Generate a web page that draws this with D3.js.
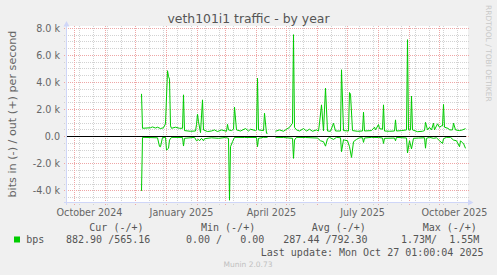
<!DOCTYPE html>
<html>
<head>
<meta charset="utf-8">
<script src="https://cdn.jsdelivr.net/npm/d3@7"></script>
<style>
  body { margin: 0; background: #f0f0f0; }
  svg { display: block; }
  text { font-family: "DejaVu Sans", sans-serif; }
  .mono { font-family: "DejaVu Sans Mono", monospace; white-space: pre; }
</style>
</head>
<body>
<svg width="497" height="275"></svg>
<script>
// daily averages, bits per second (null = no data)
const outDates = ["2024-12-07","2024-12-08","2024-12-16","2024-12-18","2024-12-21","2024-12-23","2024-12-26","2024-12-29","2024-12-31",
  "2025-01-02","2025-01-03","2025-01-04","2025-01-05","2025-01-06","2025-01-10","2025-01-14","2025-01-17","2025-01-18","2025-01-19",
  "2025-01-25","2025-01-30","2025-01-31","2025-02-01","2025-02-02","2025-02-04","2025-02-06","2025-02-07","2025-02-11","2025-02-15",
  "2025-02-18","2025-02-21","2025-02-25","2025-03-02","2025-03-03","2025-03-04","2025-03-07","2025-03-09","2025-03-10","2025-03-12",
  "2025-03-16","2025-03-21","2025-03-24","2025-03-26","2025-03-31","2025-04-01","2025-04-02","2025-04-03","2025-04-08","2025-04-09",
  "2025-04-11","2025-04-12","2025-04-16","2025-04-20","2025-04-24","2025-04-28","2025-05-01","2025-05-04","2025-05-07","2025-05-08",
  "2025-05-09","2025-05-11","2025-05-14","2025-05-18","2025-05-21","2025-05-24","2025-05-27","2025-05-31","2025-06-02","2025-06-03",
  "2025-06-05","2025-06-07","2025-06-09","2025-06-11","2025-06-14","2025-06-17","2025-06-19","2025-06-24","2025-06-25","2025-06-27",
  "2025-07-02","2025-07-03","2025-07-04","2025-07-06","2025-07-11","2025-07-16","2025-07-17","2025-07-18","2025-07-25","2025-07-28",
  "2025-07-29","2025-08-01","2025-08-02","2025-08-05","2025-08-06","2025-08-07","2025-08-12","2025-08-17","2025-08-18","2025-08-19",
  "2025-08-24","2025-08-29","2025-08-30","2025-08-31","2025-09-02","2025-09-03","2025-09-04","2025-09-09","2025-09-14","2025-09-16",
  "2025-09-17","2025-09-19","2025-09-21","2025-09-23","2025-09-25","2025-09-26","2025-09-29","2025-10-01","2025-10-03","2025-10-04",
  "2025-10-05","2025-10-06","2025-10-10","2025-10-11","2025-10-14","2025-10-15","2025-10-17","2025-10-21","2025-10-24","2025-10-27"];
const outValues = [3160,620,660,720,640,700,600,660,950,
  4870,4450,4250,800,620,700,620,620,3090,450,
  400,420,900,1660,1100,300,2720,500,380,420,
  500,380,500,400,910,500,450,550,2180,500,
  420,600,420,550,450,500,4320,500,450,1730,
  250,250,null,400,500,400,550,690,990,7530,
  690,500,420,600,420,550,400,500,420,990,
  2350,420,3580,420,400,990,420,420,4940,450,
  420,3260,3140,450,400,420,1810,420,450,700,
  500,900,600,550,2350,420,400,420,1240,420,
  450,500,7160,500,500,3000,500,370,400,450,
  1060,500,690,500,1000,500,950,690,800,800,
  2380,700,600,500,500,1000,500,450,500,600];

const inDates = ["2024-12-07","2024-12-08","2024-12-23","2024-12-25","2024-12-26","2024-12-28","2024-12-31","2025-01-01","2025-01-03",
  "2025-01-04","2025-01-06","2025-01-17","2025-01-18","2025-01-19","2025-01-29","2025-01-31","2025-02-02","2025-02-03","2025-02-05",
  "2025-02-07","2025-02-08","2025-02-15","2025-02-22","2025-03-01","2025-03-04","2025-03-05","2025-03-06","2025-03-08","2025-03-10",
  "2025-03-20","2025-04-01","2025-04-02","2025-04-03","2025-04-08","2025-04-12","2025-04-16","2025-04-20","2025-04-28","2025-05-07",
  "2025-05-08","2025-05-09","2025-05-11","2025-05-20","2025-06-01","2025-06-04","2025-06-07","2025-06-09","2025-06-11","2025-06-13",
  "2025-06-17","2025-06-20","2025-06-24","2025-06-25","2025-06-27","2025-06-28","2025-07-01","2025-07-03","2025-07-05","2025-07-07",
  "2025-07-10","2025-07-13","2025-07-16","2025-07-17","2025-07-18","2025-07-25","2025-08-01","2025-08-05","2025-08-06","2025-08-07",
  "2025-08-17","2025-08-18","2025-08-19","2025-08-29","2025-08-30","2025-09-01","2025-09-03","2025-09-05","2025-09-10","2025-09-16",
  "2025-09-17","2025-09-18","2025-09-21","2025-09-25","2025-09-28","2025-10-01","2025-10-04","2025-10-05","2025-10-08","2025-10-12",
  "2025-10-15","2025-10-18","2025-10-21","2025-10-22","2025-10-24","2025-10-25","2025-10-27"];
const inValues = [4000,50,80,720,740,60,50,990,860,
  250,50,60,690,120,50,300,200,300,120,
  300,150,80,120,60,120,4690,740,370,50,
  60,60,740,120,50,50,null,50,60,120,
  1600,250,50,60,100,300,370,700,150,50,
  200,50,80,1110,220,250,300,740,1530,370,
  200,80,80,420,100,50,60,100,500,120,
  100,300,50,100,1200,300,900,120,100,80,
  850,120,50,120,80,300,500,150,50,50,
  250,300,740,300,450,500,860];

const yTicks = [-4000, -2000, 0, 2000, 4000, 6000, 8000];
const yTickLabels = ["-4.0 k", "-2.0 k", "0.0", "2.0 k", "4.0 k", "6.0 k", "8.0 k"];
const labelMonths = ["2024-10-01", "2025-01-01", "2025-04-01", "2025-07-01", "2025-10-01"];
const labelTexts = ["October 2024", "January 2025", "April 2025", "July 2025", "October 2025"];

const legendHeads = ["Cur (-/+)", "Min (-/+)", "Avg (-/+)", "Max (-/+)"];
const legendValues = ["882.90 /565.16", "0.00 /   0.00", "287.44 /792.30", "1.73M/  1.55M"];

const parse = d3.timeParse("%Y-%m-%d");
const svg = d3.select("svg");

var x = d3.scaleTime()
    .domain([new Date(2024, 8, 23, 12), new Date(2025, 9, 28, 12)])
    .range([67, 467]);
var y = d3.scaleLinear().domain([-4880, 8000]).range([202.8, 28.3]);
const crisp = v => Math.floor(v) + 0.5;

svg.append("rect").attr("width", 497).attr("height", 275).attr("fill", "#f0f0f0");
svg.append("rect").attr("x", 67).attr("y", 26).attr("width", 401).attr("height", 176.5).attr("fill", "#ffffff");

// grid: minor every second week, major each month / every 2k
const minorX = d3.range(0, 30).map(i => d3.timeDay.offset(new Date(2024, 8, 22), 14 * i))
    .filter(d => x(d) > 67 && x(d) < 467);
const majorX = d3.timeMonth.range(new Date(2024, 9, 1), new Date(2025, 9, 2));
const minorY = d3.range(-4500, 8001, 500).filter(v => v % 2000 !== 0);

const grid = svg.append("g").attr("stroke-width", 1).attr("stroke-dasharray", "1,1").attr("fill", "none");
grid.selectAll(".mx").data(minorX).enter().append("line")
    .attr("x1", d => crisp(x(d))).attr("x2", d => crisp(x(d)))
    .attr("y1", 26).attr("y2", 205).attr("stroke", "#d2d2d2");
grid.selectAll(".my").data(minorY).enter().append("line")
    .attr("y1", d => crisp(y(d))).attr("y2", d => crisp(y(d)))
    .attr("x1", 64).attr("x2", 469).attr("stroke", "#d2d2d2");
grid.selectAll(".Mx").data(majorX).enter().append("line")
    .attr("x1", d => crisp(x(d))).attr("x2", d => crisp(x(d)))
    .attr("y1", 26).attr("y2", 206).attr("stroke", "#eea6a6");
grid.selectAll(".My").data(yTicks).enter().append("line")
    .attr("y1", d => crisp(y(d))).attr("y2", d => crisp(y(d)))
    .attr("x1", 64).attr("x2", 469).attr("stroke", "#eea6a6");

// data lines
const line = d3.line()
    .defined(d => d.v != null)
    .x(d => x(d.t))
    .y(d => y(d.v));

const outData = outDates.map((d, i) => ({t: parse(d), v: outValues[i]}));
const inData = inDates.map((d, i) => ({t: parse(d), v: inValues[i] == null ? null : -inValues[i]}));

svg.append("path").datum(inData).attr("d", line)
    .attr("fill", "none").attr("stroke", "#00cc00").attr("stroke-width", 1);
svg.append("path").datum(outData).attr("d", line)
    .attr("fill", "none").attr("stroke", "#00cc00").attr("stroke-width", 1);

// zero line
svg.append("line").attr("x1", 67).attr("x2", 466)
    .attr("y1", crisp(y(0))).attr("y2", crisp(y(0)))
    .attr("stroke", "#000").attr("stroke-width", 1);

// axes with arrows
const axisCol = "#cfd6f8";
svg.append("line").attr("x1", 66.5).attr("x2", 66.5).attr("y1", 205).attr("y2", 24)
    .attr("stroke", axisCol);
svg.append("path").attr("d", "M63.5,26.5 L66.5,21 L69.5,26.5 Z").attr("fill", axisCol);
svg.append("line").attr("x1", 64).attr("x2", 470).attr("y1", 202.5).attr("y2", 202.5)
    .attr("stroke", axisCol);
svg.append("path").attr("d", "M468,199.5 L473.5,202.5 L468,205.5 Z").attr("fill", axisCol);

// y tick labels
svg.selectAll(".ylab").data(yTicks).enter().append("text")
    .attr("x", 60).attr("y", d => y(d) + 3.4)
    .attr("text-anchor", "end").attr("font-size", "9.6px").attr("fill", "#666")
    .text((d, i) => yTickLabels[i]);

// x labels, centred in the middle of the month like rrdtool
svg.selectAll(".xlab").data(labelMonths).enter().append("text")
    .attr("x", d => x(d3.timeDay.offset(parse(d), 15)))
    .attr("y", 215.7)
    .attr("text-anchor", "middle").attr("font-size", "9.6px").attr("fill", "#666")
    .text((d, i) => labelTexts[i]);

// title and vertical labels
svg.append("text").attr("x", 248.5).attr("y", 23)
    .attr("text-anchor", "middle").attr("font-size", "12.4px").attr("fill", "#555")
    .text("veth101i1 traffic - by year");

svg.append("text").attr("transform", "translate(15.5,114) rotate(-90)")
    .attr("text-anchor", "middle").attr("font-size", "11.2px").attr("fill", "#666")
    .text("bits in (-) / out (+) per second");

svg.append("text").attr("transform", "translate(485.5,5) rotate(90)")
    .attr("text-anchor", "start").attr("font-size", "7.5px").attr("fill", "#c8c8c8")
    .text("RRDTOOL / TOBI OETIKER");

// legend
const headX = [89.3, 201, 311.7, 422.7];
const valX = [66, 186, 283.3, 401];
svg.selectAll(".lh").data(legendHeads).enter().append("text")
    .attr("class", "mono").attr("x", (d, i) => headX[i]).attr("y", 231)
    .attr("font-size", "10px").attr("fill", "#555").text(d => d);
svg.append("rect").attr("x", 14).attr("y", 236.5).attr("width", 6).attr("height", 6).attr("fill", "#00cc00");
svg.append("text").attr("class", "mono").attr("x", 26.3).attr("y", 243.3)
    .attr("font-size", "10px").attr("fill", "#555").text("bps");
svg.selectAll(".lv").data(legendValues).enter().append("text")
    .attr("class", "mono").attr("x", (d, i) => valX[i]).attr("y", 243.3)
    .attr("font-size", "10px").attr("fill", "#555").text(d => d);
svg.append("text").attr("class", "mono").attr("x", 483.5).attr("y", 255.5)
    .attr("text-anchor", "end").attr("font-size", "10px").attr("fill", "#555")
    .text("Last update: Mon Oct 27 01:00:04 2025");

svg.append("text").attr("x", 248).attr("y", 266.5)
    .attr("text-anchor", "middle").attr("font-size", "7.5px").attr("fill", "#c0c0c0")
    .text("Munin 2.0.73");
</script>
</body>
</html>
